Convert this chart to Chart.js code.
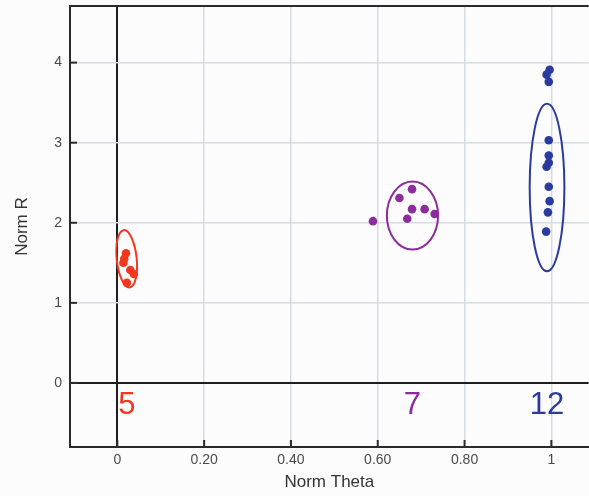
<!DOCTYPE html>
<html>
<head>
<meta charset="utf-8">
<script src="https://cdn.jsdelivr.net/npm/chart.js@4/dist/chart.umd.min.js"></script>
<style>
  html, body { margin: 0; padding: 0; background: #fcfcfd; overflow: hidden; }
  #wrap { width: 589px; height: 496px; position: relative; overflow: hidden; }
</style>
</head>
<body>
<div id="wrap"><canvas id="c" width="593" height="496"></canvas></div>
<script>
// ---- data ----
const xTicks = [0, 0.2, 0.4, 0.6, 0.8, 1];
const xTickLabels = ["0", "0.20", "0.40", "0.60", "0.80", "1"];
const yTicks = [0, 1, 2, 3, 4];

const redX = [0.020, 0.016, 0.014, 0.030, 0.038, 0.022];
const redY = [1.62, 1.55, 1.50, 1.41, 1.36, 1.25];

const purpleX = [0.589, 0.650, 0.679, 0.679, 0.668, 0.708, 0.731];
const purpleY = [2.02, 2.31, 2.42, 2.17, 2.05, 2.17, 2.11];

const blueX = [0.996, 0.989, 0.994, 0.994, 0.994, 0.994, 0.989, 0.994, 0.996, 0.992, 0.988];
const blueY = [3.91, 3.85, 3.76, 3.03, 2.84, 2.75, 2.70, 2.45, 2.27, 2.13, 1.89];

const clusterNames = ["5", "7", "12"];
const clusterColors = ["#f2371f", "#8b2d9b", "#2a3a9f"];
const labelX = [0.022, 0.680, 0.990];
const labelY = [-0.28, -0.28, -0.28];

const ellipseCX = [0.0216, 0.680, 0.990];
const ellipseCY = [1.55, 2.09, 2.44];
const ellipseRX = [0.023, 0.059, 0.040];
const ellipseRY = [0.36, 0.424, 1.045];
const ellipseRot = [-6, 0, 0];

const FONT = "'Liberation Sans', Arial, Helvetica, sans-serif";

function pts(xs, ys) { return xs.map((x, i) => ({ x: x, y: ys[i] })); }

const overlay = {
  id: 'overlay',
  beforeDatasetsDraw(chart) {
    const ctx = chart.ctx, a = chart.chartArea;
    const xs = chart.scales.x, ys = chart.scales.y;
    ctx.save();
    // top frame
    ctx.strokeStyle = '#2b2b2b';
    ctx.lineWidth = 2;
    ctx.beginPath();
    ctx.moveTo(a.left, a.top);
    ctx.lineTo(a.right, a.top);
    ctx.stroke();
    // inner tick marks
    ctx.lineWidth = 2;
    xTicks.forEach(v => {
      const px = xs.getPixelForValue(v);
      ctx.beginPath(); ctx.moveTo(px, a.bottom); ctx.lineTo(px, a.bottom - 7); ctx.stroke();
    });
    yTicks.forEach(v => {
      const py = ys.getPixelForValue(v);
      ctx.beginPath(); ctx.moveTo(a.left, py); ctx.lineTo(a.left + 7, py); ctx.stroke();
    });
    // ellipses
    ctx.lineWidth = 2;
    ellipseCX.forEach((cx, i) => {
      const px = xs.getPixelForValue(cx);
      const py = ys.getPixelForValue(ellipseCY[i]);
      const rx = Math.abs(xs.getPixelForValue(cx + ellipseRX[i]) - px);
      const ry = Math.abs(ys.getPixelForValue(ellipseCY[i] + ellipseRY[i]) - py);
      ctx.strokeStyle = clusterColors[i];
      ctx.beginPath();
      ctx.ellipse(px, py, rx, ry, ellipseRot[i] * Math.PI / 180, 0, Math.PI * 2);
      ctx.stroke();
    });
    // cluster labels
    ctx.font = '31px ' + FONT;
    ctx.textAlign = 'center';
    ctx.textBaseline = 'middle';
    clusterNames.forEach((t, i) => {
      ctx.fillStyle = clusterColors[i];
      ctx.fillText(t, xs.getPixelForValue(labelX[i]), ys.getPixelForValue(labelY[i]));
    });
    ctx.restore();
  }
};

new Chart(document.getElementById('c'), {
  type: 'scatter',
  data: {
    datasets: [
      { label: clusterNames[0], data: pts(redX, redY), backgroundColor: clusterColors[0], borderColor: clusterColors[0], pointRadius: 4.3, pointBorderWidth: 0 },
      { label: clusterNames[1], data: pts(purpleX, purpleY), backgroundColor: clusterColors[1], borderColor: clusterColors[1], pointRadius: 4.3, pointBorderWidth: 0 },
      { label: clusterNames[2], data: pts(blueX, blueY), backgroundColor: clusterColors[2], borderColor: clusterColors[2], pointRadius: 4.3, pointBorderWidth: 0 }
    ]
  },
  options: {
    responsive: false,
    animation: false,
    devicePixelRatio: 1,
    layout: { padding: { top: 6, right: 0, left: 0, bottom: 0 } },
    plugins: { legend: { display: false }, tooltip: { enabled: false } },
    scales: {
      x: {
        type: 'linear',
        min: -0.109,
        max: 1.086,
        afterBuildTicks(s) { s.ticks = xTicks.map(v => ({ value: v })); },
        afterFit(s) { s.height = 49; s.paddingLeft = 0; s.paddingRight = 0; },
        border: { display: true, color: '#2b2b2b', width: 2 },
        grid: {
          drawTicks: false,
          color: c => (c.tick && c.tick.value === 0) ? '#1e1e1e' : '#d5dbe4',
          lineWidth: c => (c.tick && c.tick.value === 0) ? 2 : 1.5
        },
        ticks: {
          padding: 5,
          color: '#4a4a4a',
          font: { family: FONT, size: 14 },
          callback: (v) => { const i = xTicks.indexOf(v); return i >= 0 ? xTickLabels[i] : ''; }
        },
        title: { display: true, text: 'Norm Theta', color: '#333', font: { family: FONT, size: 17 }, padding: { top: 2, bottom: 3 } }
      },
      y: {
        type: 'linear',
        min: -0.8,
        max: 4.707,
        afterBuildTicks(s) { s.ticks = yTicks.map(v => ({ value: v })); },
        afterFit(s) { s.width = 70; s.paddingTop = 0; s.paddingBottom = 0; },
        border: { display: true, color: '#2b2b2b', width: 2 },
        grid: {
          drawTicks: false,
          color: c => (c.tick && c.tick.value === 0) ? '#1e1e1e' : '#d5dbe4',
          lineWidth: c => (c.tick && c.tick.value === 0) ? 2 : 1.5
        },
        ticks: {
          padding: 8,
          color: '#4a4a4a',
          font: { family: FONT, size: 14 },
          callback: v => String(v)
        },
        title: { display: true, text: 'Norm R', color: '#333', font: { family: FONT, size: 17 }, padding: { top: 12, bottom: 0 } }
      }
    }
  },
  plugins: [overlay]
});
</script>
</body>
</html>
